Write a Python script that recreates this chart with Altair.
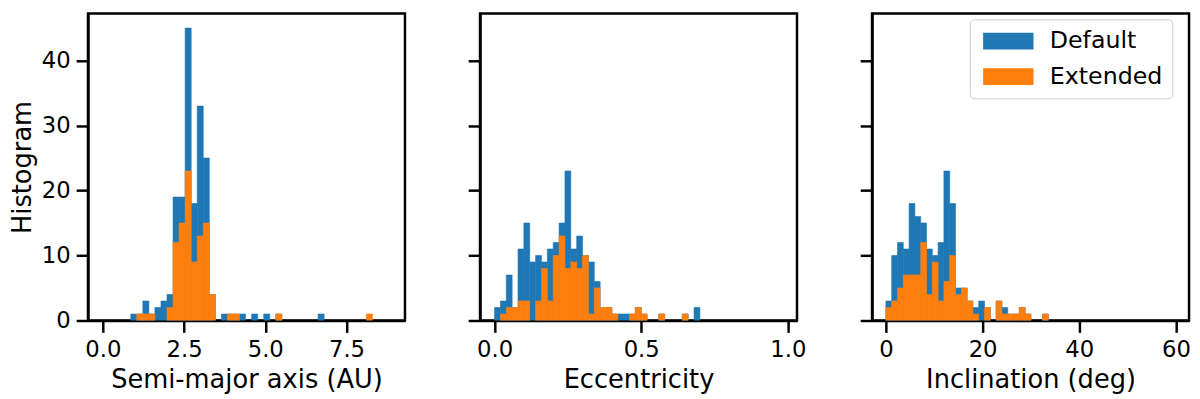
import altair as alt
import pandas as pd

SERIES = ["Default", "Extended"]
COLORS = ["#1f77b4", "#ff7f0e"]

# Semi-major axis histogram (50 bins)
a_bin_start = -0.07
a_bin_width = 0.186
a_default = [0, 0, 0, 0, 0, 1, 1, 3, 1, 2,
             3, 4, 19, 19, 45, 18, 33, 25, 4, 0,
             1, 1, 1, 1, 0, 1, 0, 1, 0, 1,
             0, 0, 0, 0, 0, 0, 1, 0, 0, 0,
             0, 0, 0, 0, 0, 0, 0, 0, 0, 0]
a_extended = [0, 0, 0, 0, 0, 0, 1, 1, 1, 0,
              0, 2, 12, 15, 23, 9, 13, 15, 4, 0,
              0, 1, 1, 0, 0, 0, 0, 0, 0, 1,
              0, 0, 0, 0, 0, 0, 0, 0, 0, 0,
              0, 0, 0, 0, 1, 0, 0, 0, 0, 0]

# Eccentricity histogram
e_bin_start = 0.0
e_bin_width = 0.02
e_default = [2, 3, 7, 2, 11, 15, 9, 10, 9, 11,
             12, 15, 23, 11, 13, 10, 9, 6, 2, 2,
             1, 1, 1, 1, 2, 1, 0, 0, 1, 0,
             0, 0, 1, 0, 2, 0, 0, 0, 0, 0,
             0, 0, 0, 0, 0, 0, 0, 0, 0, 0]
e_extended = [0, 1, 2, 2, 3, 3, 0, 3, 8, 3,
              10, 13, 8, 9, 8, 10, 1, 5, 2, 2,
              1, 0, 0, 1, 2, 1, 0, 0, 1, 0,
              0, 0, 1, 0, 0, 0, 0, 0, 0, 0,
              0, 0, 0, 0, 0, 0, 0, 0, 0, 0]

# Inclination histogram
i_bin_start = 0.0
i_bin_width = 1.2
i_default = [3, 10, 12, 11, 18, 16, 15, 11, 10, 12,
             23, 18, 5, 5, 3, 2, 3, 2, 0, 3,
             2, 1, 1, 2, 1, 0, 0, 1, 0, 0,
             0, 0, 0, 0, 0, 0, 0, 0, 0, 0,
             0, 0, 0, 0, 0, 0, 0, 0, 0, 0]
i_extended = [2, 3, 5, 7, 7, 7, 12, 4, 9, 3,
              6, 10, 4, 5, 3, 1, 0, 2, 0, 3,
              1, 1, 1, 2, 1, 0, 0, 1, 0, 0,
              0, 0, 0, 0, 0, 0, 0, 0, 0, 0,
              0, 0, 0, 0, 0, 0, 0, 0, 0, 0]

Y_TICKS = [0, 10, 20, 30, 40]
Y_MAX = 47.25

PANEL_W = 321
PANEL_H = 311


def hist_frame(start, width, default, extended):
    rows = []
    for name, counts in (("Default", default), ("Extended", extended)):
        for k, c in enumerate(counts):
            if c > 0:
                rows.append({"series": name, "lo": start + k * width,
                             "hi": start + (k + 1) * width, "count": c})
    return pd.DataFrame(rows)


def panel(df, xtitle, xdomain, xticks, xfmt, first, legend):
    sc = alt.Scale(domain=SERIES, range=COLORS)
    return alt.Chart(df).mark_rect(clip=True, strokeWidth=0.6).encode(
        x=alt.X("lo:Q",
                scale=alt.Scale(domain=xdomain, nice=False, zero=False),
                axis=alt.Axis(values=xticks, format=xfmt, title=xtitle)),
        x2="hi:Q",
        y=alt.Y("count:Q", stack=None,
                scale=alt.Scale(domain=[0, Y_MAX], nice=False),
                axis=alt.Axis(values=Y_TICKS, labels=first,
                              title="Histogram" if first else None)),
        y2=alt.datum(0),
        color=alt.Color("series:N", scale=sc, legend=legend),
        stroke=alt.Stroke("series:N", scale=sc, legend=None),
    ).properties(width=PANEL_W, height=PANEL_H)


legend = alt.Legend(
    title=None, orient="none", legendX=99, legendY=6,
    symbolType="M-1,-1H5V1H-1Z", symbolSize=289, symbolStrokeWidth=0,
    symbolOpacity=1,
    labelFont="DejaVu Sans", labelFontSize=24, labelColor="black",
    labelOffset=47, rowPadding=12, padding=10,
    fillColor="white", strokeColor="#cccccc", cornerRadius=4,
)

p1 = panel(hist_frame(a_bin_start, a_bin_width, a_default, a_extended),
           "Semi-major axis (AU)", [-0.456, 9.30], [0, 2.5, 5, 7.5], ".1f",
           True, None)
p2 = panel(hist_frame(e_bin_start, e_bin_width, e_default, e_extended),
           "Eccentricity", [-0.0495, 1.031], [0, 0.5, 1.0], ".1f", False, None)
p3 = panel(hist_frame(i_bin_start, i_bin_width, i_default, i_extended),
           "Inclination (deg)", [-2.86, 62.7], [0, 20, 40, 60], "d", False,
           legend)

left_pair = alt.hconcat(p1, p2, spacing=59)

chart = alt.hconcat(left_pair, p3, spacing=50).resolve_scale(
    color="independent", stroke="independent"
).properties(
    padding={"left": 0, "top": 1, "right": 0, "bottom": 0}
).configure_view(
    stroke="black", strokeWidth=2.5
).configure_axis(
    domain=True, domainColor="black", domainWidth=2.5,
    ticks=True, tickColor="black", tickWidth=2.5, tickSize=12,
    grid=False, zindex=1,
    labelFont="DejaVu Sans", labelFontSize=23, labelColor="black",
    labelPadding=6, labelFlush=False, labelOverlap=False,
    titleFont="DejaVu Sans", titleFontSize=26, titleFontWeight="normal",
    titleColor="black", titlePadding=6,
)

chart.save("out.html", embed_options={"renderer": "svg", "actions": False})
